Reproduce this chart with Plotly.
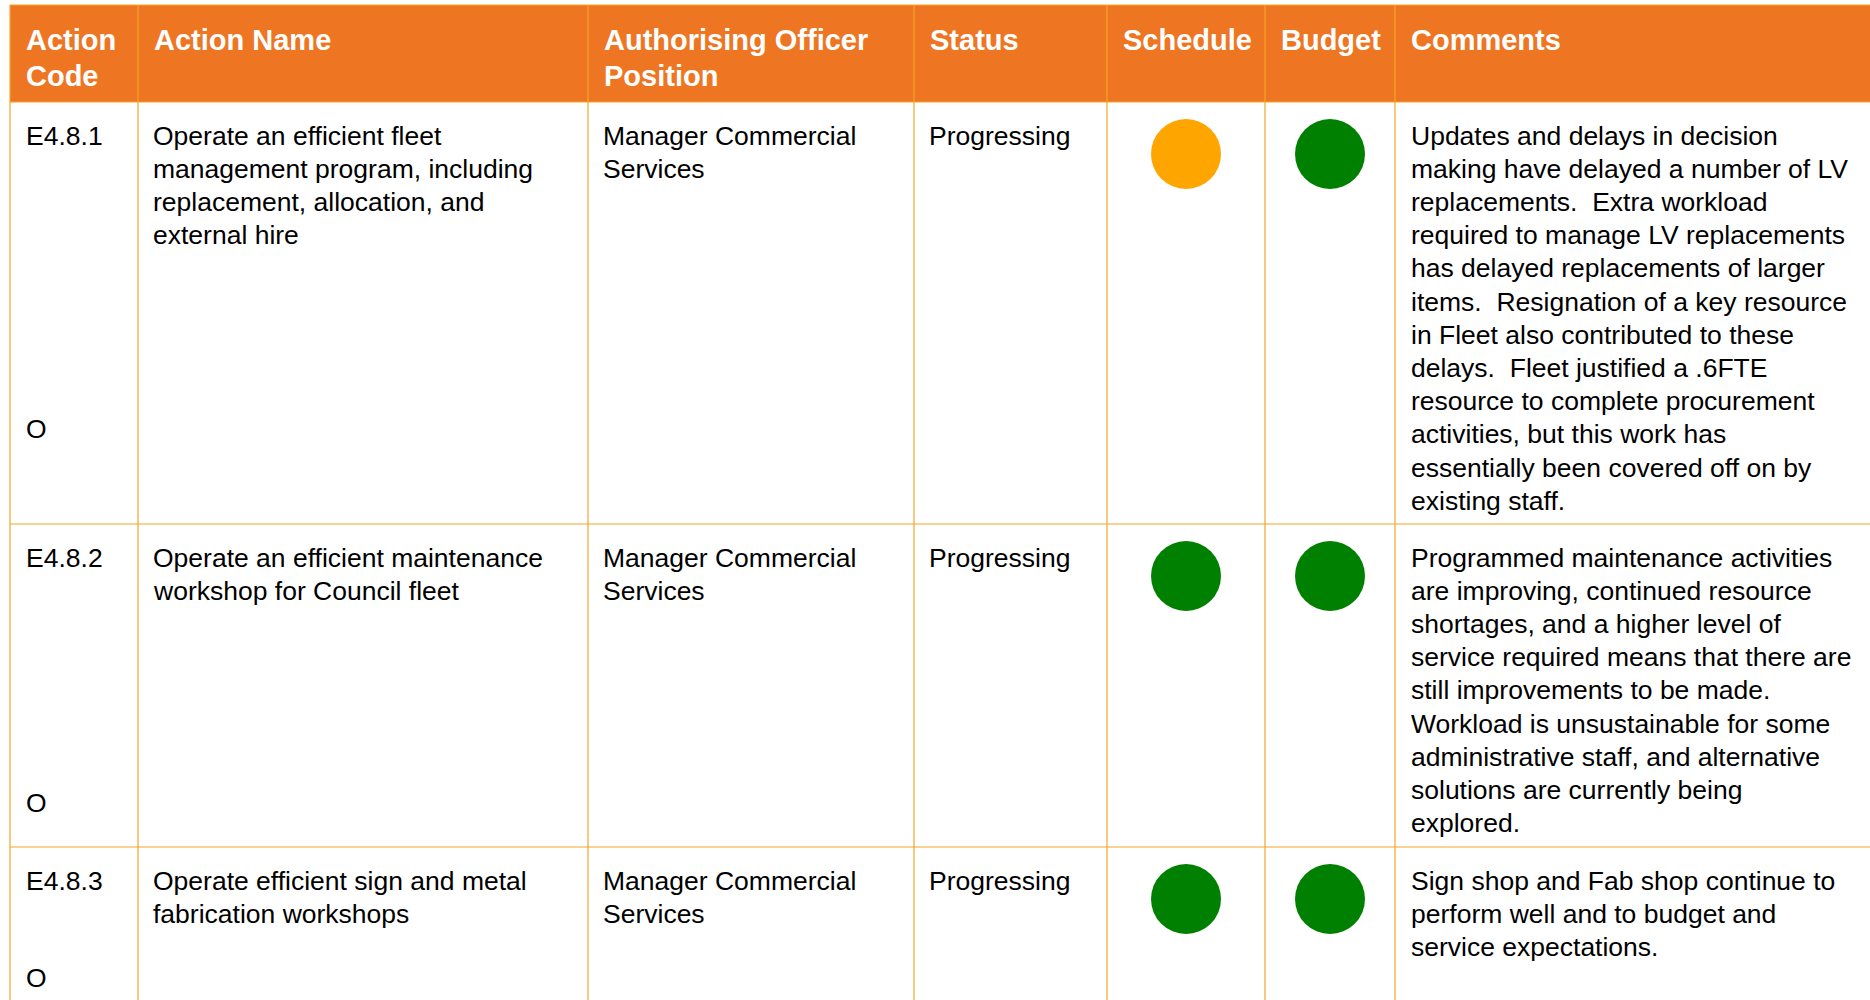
import plotly.graph_objects as go

# ---------------- data ----------------
headers = ["Action\nCode", "Action Name", "Authorising Officer\nPosition", "Status",
           "Schedule", "Budget", "Comments"]
codes = ["E4.8.1", "E4.8.2", "E4.8.3"]
action_names = [
    "Operate an efficient fleet\nmanagement program, including\nreplacement, allocation, and\nexternal hire",
    "Operate an efficient maintenance\nworkshop for Council fleet",
    "Operate efficient sign and metal\nfabrication workshops",
]
officers = ["Manager Commercial\nServices"] * 3
statuses = ["Progressing", "Progressing", "Progressing"]
schedule_status = ["amber", "green", "green"]
budget_status = ["green", "green", "green"]
markers = ["O", "O", "O"]
comments = [
    "Updates and delays in decision\nmaking have delayed a number of LV\nreplacements.  Extra workload\n"
    "required to manage LV replacements\nhas delayed replacements of larger\nitems.  Resignation of a key resource\n"
    "in Fleet also contributed to these\ndelays.  Fleet justified a .6FTE\nresource to complete procurement\n"
    "activities, but this work has\nessentially been covered off on by\nexisting staff.",
    "Programmed maintenance activities\nare improving, continued resource\nshortages, and a higher level of\n"
    "service required means that there are\nstill improvements to be made.\nWorkload is unsustainable for some\n"
    "administrative staff, and alternative\nsolutions are currently being\nexplored.",
    "Sign shop and Fab shop continue to\nperform well and to budget and\nservice expectations.",
]

# ---------------- layout / style ----------------
W, H = 1870, 1000
col_edges = [10, 138, 588, 914, 1107, 1265, 1395, 1880]
row_edges = [5, 102, 524, 847, 1010]
marker_line = [8.84, 7.38, 2.94]     # line offset where the "O" sits in each row
HEADER_BG = "#EE7623"
GRID = "#F4A428"
STATUS_COLORS = {"amber": "#FFA500", "green": "#008000"}
FONT = "Liberation Sans, Arial, sans-serif"
BODY_SIZE, BODY_LS = 26.5, 33.2
HEAD_SIZE, HEAD_LS = 29, 36
PAD = 13

fig = go.Figure()
shapes = []
annotations = []

# header background
shapes.append(dict(type="rect", xref="x", yref="y", x0=col_edges[0], x1=col_edges[-1],
                   y0=row_edges[0], y1=row_edges[1], fillcolor=HEADER_BG, line_width=0, layer="below"))
# grid lines
for x in col_edges[:-1]:
    shapes.append(dict(type="line", xref="x", yref="y", x0=x, x1=x, y0=row_edges[0], y1=row_edges[-1],
                       line=dict(color=GRID, width=1.2)))
for y in row_edges[:-1]:
    shapes.append(dict(type="line", xref="x", yref="y", x0=col_edges[0], x1=col_edges[-1], y0=y, y1=y,
                       line=dict(color=GRID, width=1.2)))


def add_text(text, x, y0, size, ls, color, bold=False):
    for i, line in enumerate(text.split("\n")):
        annotations.append(dict(
            x=x, y=y0 + i * ls, xref="x", yref="y", text=f"<b>{line}</b>" if bold else line,
            showarrow=False, xanchor="left", yanchor="middle", align="left",
            font=dict(family=FONT, size=size, color=color)))


# header text
for j, h in enumerate(headers):
    add_text(h, col_edges[j] + PAD + 1, row_edges[0] + 35, HEAD_SIZE, HEAD_LS, "white", bold=True)

# body text
for r in range(len(codes)):
    top = row_edges[r + 1] + 33.5
    add_text(codes[r], col_edges[0] + PAD + 1, top, BODY_SIZE, BODY_LS, "#000000")
    add_text(markers[r], col_edges[0] + PAD + 1, top + marker_line[r] * BODY_LS, BODY_SIZE, BODY_LS, "#000000")
    add_text(action_names[r], col_edges[1] + PAD, top, BODY_SIZE, BODY_LS, "#000000")
    add_text(officers[r], col_edges[2] + PAD, top, BODY_SIZE, BODY_LS, "#000000")
    add_text(statuses[r], col_edges[3] + PAD, top, BODY_SIZE, BODY_LS, "#000000")
    add_text(comments[r], col_edges[6] + PAD + 1, top, BODY_SIZE, BODY_LS, "#000000")

# status circles
circle_y = [row_edges[r + 1] + 52 for r in range(len(codes))]
sched_x = (col_edges[4] + col_edges[5]) / 2
budget_x = (col_edges[5] + col_edges[6]) / 2
fig.add_trace(go.Scatter(
    x=[sched_x] * len(codes), y=circle_y, mode="markers",
    marker=dict(size=70, color=[STATUS_COLORS[s] for s in schedule_status], line_width=0),
    hoverinfo="skip", showlegend=False))
fig.add_trace(go.Scatter(
    x=[budget_x] * len(codes), y=circle_y, mode="markers",
    marker=dict(size=70, color=[STATUS_COLORS[s] for s in budget_status], line_width=0),
    hoverinfo="skip", showlegend=False))

fig.update_layout(
    width=W, height=H, margin=dict(l=0, r=0, t=0, b=0),
    paper_bgcolor="white", plot_bgcolor="white",
    xaxis=dict(range=[0, W], visible=False, fixedrange=True),
    yaxis=dict(range=[H, 0], visible=False, fixedrange=True),
    shapes=shapes, annotations=annotations, showlegend=False,
)

fig.write_html("out.html", include_plotlyjs=True, config={"displayModeBar": False},
               post_script="document.body.style.margin='0';document.body.style.overflow='hidden';")
